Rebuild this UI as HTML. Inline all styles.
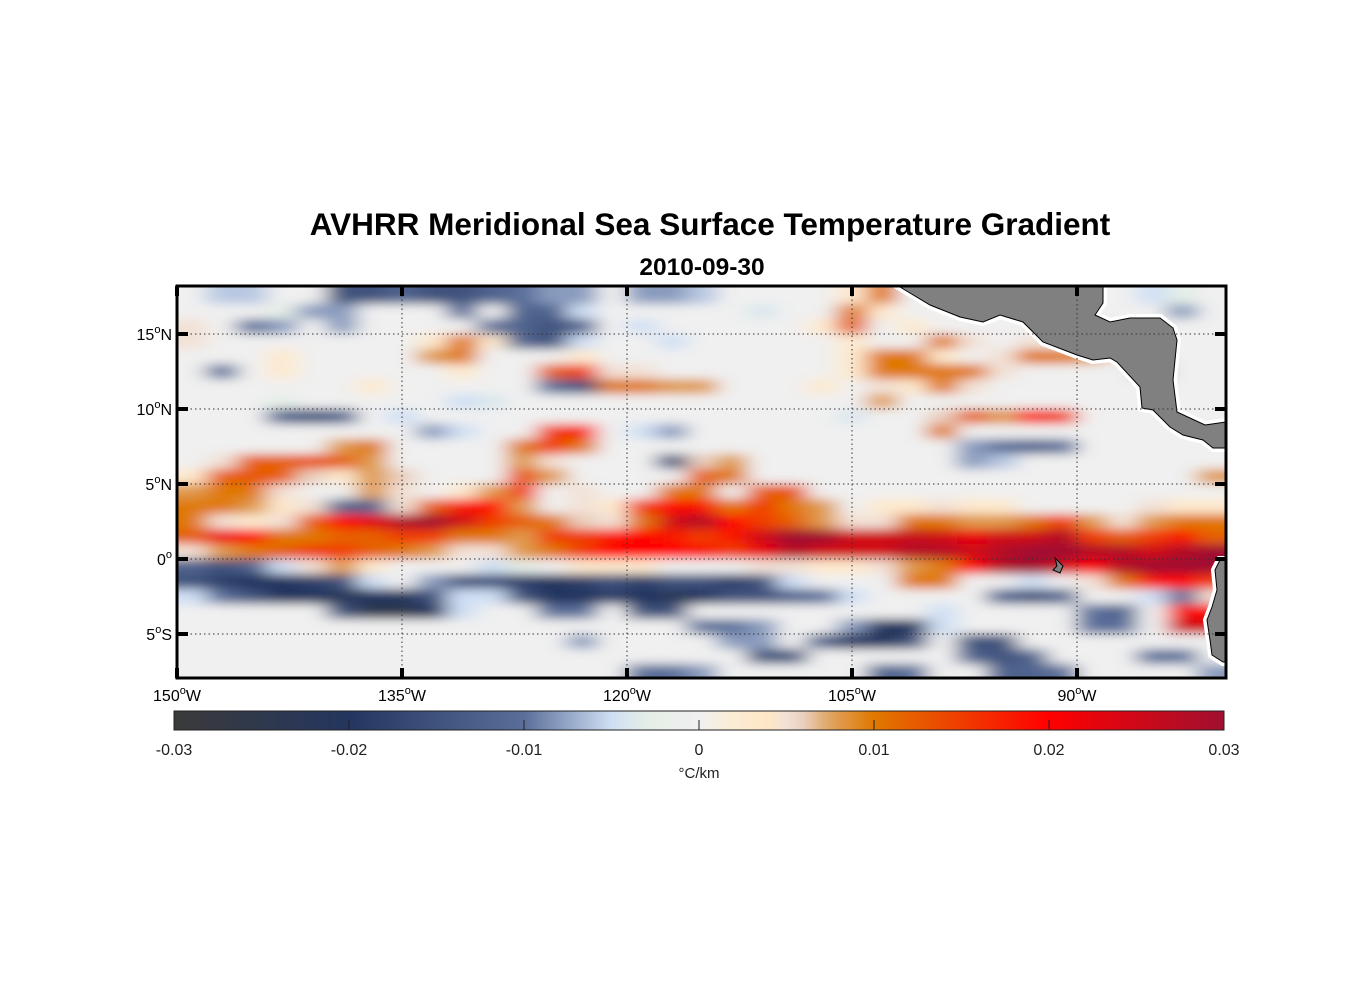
<!DOCTYPE html>
<html><head><meta charset="utf-8"><style>
body{margin:0;background:#fff;font-family:"Liberation Sans",Arial,sans-serif}
svg{display:block}
</style></head><body>
<svg id="chart" width="1356" height="1000" xmlns="http://www.w3.org/2000/svg">
<defs>
<clipPath id="frameClip"><rect x="177" y="286" width="1049" height="392"/></clipPath>
<filter id="blur" x="-5%" y="-5%" width="110%" height="110%"><feGaussianBlur stdDeviation="11 5"/></filter>
<linearGradient id="cbGrad" x1="0" x2="1" y1="0" y2="0"></linearGradient>
</defs>
<text x="710" y="235" text-anchor="middle" font-size="31.5" font-weight="bold">AVHRR Meridional Sea Surface Temperature Gradient</text>
<text x="702" y="275" text-anchor="middle" font-size="24.5" font-weight="bold">2010-09-30</text>
<rect x="177" y="286" width="1049" height="392" fill="#eef0ee"/>
<g clip-path="url(#frameClip)"><g id="cells" filter="url(#blur)"></g></g>
<g id="land" clip-path="url(#frameClip)">
<polygon points="900,287 930,305 960,317 983,322 1000,315 1023,322 1043,342 1077,355 1093,360 1110,358 1117,362 1140,387 1142,408 1153,410 1170,427 1183,435 1203,440 1213,448 1223,448 1226,448 1226,422 1205,425 1177,412 1173,380 1177,340 1173,328 1160,318 1130,318 1110,322 1095,315 1103,303 1103,287" fill="#fff" stroke="#fff" stroke-width="8"/>
<polygon points="900,287 930,305 960,317 983,322 1000,315 1023,322 1043,342 1077,355 1093,360 1110,358 1117,362 1140,387 1142,408 1153,410 1170,427 1183,435 1203,440 1213,448 1223,448 1226,448 1226,422 1205,425 1177,412 1173,380 1177,340 1173,328 1160,318 1130,318 1110,322 1095,315 1103,303 1103,287" fill="#808080" stroke="#000" stroke-width="1"/>
<polygon points="1226,560 1220,560 1215,570 1217,590 1212,607 1207,620 1210,640 1212,655 1223,662 1226,662" fill="#fff" stroke="#fff" stroke-width="8"/>
<polygon points="1226,560 1220,560 1215,570 1217,590 1212,607 1207,620 1210,640 1212,655 1223,662 1226,662" fill="#808080" stroke="#000" stroke-width="1"/>
<polygon points="1055,558 1063,566 1060,573 1053,570 1057,566" fill="#808080" stroke="#000" stroke-width="1"/>
</g>
<g id="grid"></g>
<rect x="177" y="286" width="1049" height="392" fill="none" stroke="#000" stroke-width="3"/>
<g id="ticks"></g>
<g id="labels" font-size="16"></g>
<rect x="174" y="711" width="1050" height="19" fill="url(#cbGrad)" stroke="#222" stroke-width="1"/>
<g id="cbticks" font-size="16" fill="#222"></g>
<text x="699" y="778" text-anchor="middle" font-size="15" fill="#222">°C/km</text>
</svg>
<script>
const lonCenters = [149,147,145,143,141,139,137,135,133,131,129,127,125,123,121,119,117,115,113,111,109,107,105,103,101,99,97,95,93,91,89,87,85,83,81];
const latCenters = [17.5,16.5,15.5,14.5,13.5,12.5,11.5,10.5,9.5,8.5,7.5,6.5,5.5,4.5,3.5,2.5,1.5,0.5,-0.5,-1.5,-2.5,-3.5,-4.5,-5.5,-6.5,-7.5];
// values in units of 0.01 °C/km
const r17 = [0,-0.6,-0.6,0,0,-1.5,-1.5,-1.2,-1.5,-1.5,-1.2,-1,-0.8,-0.8,0,-0.8,-0.8,-0.6,0,0,0,0,0.3,1,0,0,0,0,0,0,0,0,-0.5,-0.3,0];
const r16 = [0,0,0,-0.3,-0.8,-0.8,0,0,0,-1,0,-1.2,-1.2,-0.5,0,0,0,0,0,-0.4,0,0,1,0.3,0,0,0,0,0,0,0,0,0,-0.8,0];
const r15 = [0.5,0,-1,-0.8,0,-0.8,0,0,0,0,-1,-1.2,-1.5,-1.2,0,-0.5,0,0,0,0,0,0.3,1.2,0,0.3,0,0,0,0,0,0,0,0,0,0];
const r14 = [0.5,0,0,0,0,0,0,0,0.3,1,0.3,-1.2,-1.5,-0.5,0,0,-0.5,0,0,0,0,0,0.3,0,0,1,0.5,0,0.5,0,0,0,0,0,0];
const r13 = [0,0,0,0.3,0,0,0,0,0.8,1,0,0,0,0.3,0,0,0,0,0,0,0,0,0.3,1,1,0.3,0,0.5,1,1,0.8,0,0,0,0];
const r12 = [0,-1,0,0.3,0,0,0,0,0,0.3,0,0,1.2,1.5,0.5,0.5,0,0,0,0,0,0,0.3,1,1,1,1,0.5,0,0,0,0,-0.8,0,0];
const r11 = [0,0,0,0,0,0,0.3,0,0,0,0,0,-1,-1.5,1,1,0.8,0.8,0,0,0,0.3,0,0.5,0.3,1,0.5,0,0,0,0,0,0,0,0];
const r10 = [0,0,0,-0.3,0,0,0,0,0,-0.5,-0.4,0,0,0,0,0,0,0,0,0,0,0,0,0.8,0,0,0,0,0,0,0,0,0,0,0];
const r9 = [0,0,0,-1.2,-1.5,-1.2,0,-0.5,0,0,0,0,0,0,0,0,0,0,0,0,0,0,-0.4,0,0,0.6,1.2,0.8,1.8,1.5,0,0,0,0,0];
const r8 = [0,0,0,0,0,0,0,0,-0.8,-0.5,0,0,1.5,1.8,0,-0.5,-0.8,0,0,0,0,0,0,0,0,1,0,0,0,0,0,0,0,0,0];
const r7 = [0,0,0,0,0,0.8,1,0,0,0,0,1,1.5,1,0,0,0,0,0,0,0,0,0,0,0,0,-0.8,-1,-1.2,-1,0,0,0,0,0];
const r6 = [0,0.5,1.2,1.2,1.3,1.2,0.8,0,0,0,0,0.8,0.5,0,0,0,-1.5,0.6,0.8,0,0,0,0,0,0,0,-0.8,-0.6,0,0,0,0,0,0,0];
const r5 = [0.3,1.2,1.3,1.2,0.6,0.3,0.8,0.6,0,0,0,1.3,0.8,0,0,0,0,1.2,1,0,0,0,0,0,0,0,0,0,0,0,0,0,0,0,0.8];
const r4 = [0.8,1,1,0.5,0,0,0.8,0.5,0,0.3,0.8,1.5,0,0.5,0,0,1,1,0,1.2,1.3,0,0,0,0,0,0,0,0,0,0,0,0,0,0];
const r3 = [1,1,0.8,0.3,0.5,-1.2,-1.2,0.5,1.2,1.8,2,0.8,0,0.5,0.3,1.5,2,1.8,1,1.5,1,0.8,0,0.3,0.3,0.5,0.3,0.3,0,0,0,0,0.5,0.3,0.3];
const r2 = [1,0.5,0.3,0.5,1.2,2,2.3,2.8,3,2.5,1.5,1.2,1,0.6,0.5,1,2.5,2.8,2,1.5,1.2,0.8,0.5,0.5,1,1,0.8,0.8,1,1.5,0.8,0.5,0.8,1,1];
const r1 = [1.2,2.2,2,1,1,1.2,1.2,1.5,1.5,1,1,0.8,1.5,1.5,1.8,2,1.8,1.5,1.8,2.5,3,3,2.5,2.5,2.6,2.5,2.2,2.5,2.5,2.8,1.5,1.2,1.5,1.8,1.2];
const r0 = [0.5,0.8,1,1.2,1.5,1.5,1.2,1,0.8,0.5,0.5,0.8,1,1.5,2,2,2,1.8,1.5,2.2,2.8,2.5,2.5,2.5,2.8,2.8,2.5,2.8,3,3,2.8,2.8,2.5,2.8,3];
const s0 = [-1.2,-1.5,-1.2,-0.5,0.5,0.8,0.3,0,0,0,-0.5,-0.3,0,0.3,0.3,0.3,0,0,0,0.5,0.5,0.3,0.3,0.5,0.8,1,2,2.8,3,2.5,2,2.8,3,3,3];
const s1 = [-1.5,-1.8,-2,-2,-1.8,-1.5,-0.5,0,-0.8,-1.5,-1.5,-1.8,-2,-1.8,-1.5,-1.8,-1.5,-1.5,-1.8,-1.5,-0.5,0,0,0,1,1,0,0,-0.5,0,0.5,1,1.8,2,1.5];
const s2 = [-0.5,-1,-1.5,-2,-2,-2.2,-2,-2,-1.5,-0.5,-0.5,-1.5,-2,-2,-1.8,-2,-2.2,-2,-1.5,-1.5,-1.2,-1,-0.5,0,0,0,0,-1.2,-1.5,-1.2,0,0,-0.5,-1,0.5];
const s3 = [0,0,0,0,0,-1.5,-2.5,-2.5,-2,-0.5,0,0,-1,-1,0,-1.5,-1.5,0,0,0,0,0,0,0,0,-0.5,0,0,0,0,-1,-1.2,0,1.8,2];
const s4 = [0,0,0,0,0,0,0,0,0,0,0,0,0,0,0,0,0,-1,-1,-0.8,0,0,-0.8,-2,-2,-0.5,0,0,0,0,-1,-1,0,2.5,2.5];
const s5 = [0,0,0,0,0,0,0,0,0,0,0,0,0,-0.8,0,0,0,0,-0.8,-0.8,0,-1.2,-2,-2,-1.5,0,-1.5,-1.5,0,0,0,0,0,0,0];
const s6 = [0,0,0,0,0,0,0,0,0,0,0,0,0,0,0,0,0,0,0,-1.5,-1.5,0,0,0,0,0,-1.2,-1.5,-1.2,0,0,0,-1,-1,0];
const s7 = [0,0,0,0,0,0,0,0,0,0,0,0,0,0,0,-1,-1,-0.8,0,0,0,0,0,-1.2,-1,0,0,-1.2,-1.2,-1,0,0,0,0,-0.8];
const rows = [r17,r16,r15,r14,r13,r12,r11,r10,r9,r8,r7,r6,r5,r4,r3,r2,r1,r0,s0,s1,s2,s3,s4,s5,s6,s7];
const lonTicks = [150,135,120,105,90];
const latTicks = [15,10,5,0,-5];
const cbTicks = [-0.03,-0.02,-0.01,0,0.01,0.02,0.03];
const cbTickLabels = ["-0.03","-0.02","-0.01","0","0.01","0.02","0.03"];

const NS='http://www.w3.org/2000/svg';
const xLon = lon => 177 + (150 - lon) * 15;
const yLat = lat => 559 - lat * 15;
const stops = [[-3,[58,58,58]],[-2,[36,54,95]],[-1,[90,110,154]],[-0.5,[207,223,244]],[-0.3,[228,238,230]],[0,[240,240,240]],[0.2,[252,236,212]],[0.4,[253,230,198]],[0.55,[236,222,222]],[0.75,[223,162,94]],[1,[224,120,0]],[2,[255,0,0]],[3,[160,16,48]]];
function color(v){
  v=Math.max(-3,Math.min(3,v));
  for(let i=0;i<stops.length-1;i++){
    const [a,ca]=stops[i],[b,cb]=stops[i+1];
    if(v<=b){const t=(v-a)/(b-a);return 'rgb('+ca.map((c,k)=>Math.round(c+(cb[k]-c)*t)).join(',')+')';}
  }
  return 'rgb(160,16,48)';
}
function mk(tag,attrs,parent){const e=document.createElementNS(NS,tag);for(const k in attrs)e.setAttribute(k,attrs[k]);parent.appendChild(e);return e;}
const cells=document.getElementById('cells');
rows.forEach((row,ri)=>{
  const lat=latCenters[ri];
  row.forEach((v,ci)=>{
    const lon=lonCenters[ci];
    const x0=xLon(lon+1),x1=xLon(lon-1),y0=yLat(lat+0.5),y1=yLat(lat-0.5);
    let ya=y0,yb=y1;
    if(ri===0) ya=y0-20;
    if(ri===rows.length-1) yb=y1+20;
    let xa=x0,xb=x1;
    if(ci===0) xa=x0-25;
    if(ci===row.length-1) xb=x1+25;
    const r=mk('rect',{x:xa,y:ya,width:xb-xa+0.5,height:yb-ya+0.5,fill:color(v)},cells);
    
    
  });
});
const grid=document.getElementById('grid'),ticks=document.getElementById('ticks'),labels=document.getElementById('labels');
lonTicks.forEach(lon=>{
  const x=xLon(lon);
  if(lon!==150){const g=mk('line',{x1:x,x2:x,y1:286,y2:678,stroke:'#333','stroke-width':1,'stroke-dasharray':'1.5 3'},grid);
  
  }
  const t1=mk('line',{x1:x,x2:x,y1:286,y2:296,stroke:'#000','stroke-width':4},ticks);
  
  
  const t2=mk('line',{x1:x,x2:x,y1:668,y2:678,stroke:'#000','stroke-width':4},ticks);
  
  
  const tx=mk('text',{x:x,y:701,'text-anchor':'middle'},labels);
  
  
  tx.innerHTML=lon+'<tspan dy="-7" font-size="11">o</tspan><tspan dy="7">W</tspan>';
});
latTicks.forEach(lat=>{
  const y=yLat(lat);
  const g=mk('line',{x1:177,x2:1226,y1:y,y2:y,stroke:'#333','stroke-width':1,'stroke-dasharray':'1.5 3'},grid);
  
  
  const t1=mk('line',{x1:177,x2:188,y1:y,y2:y,stroke:'#000','stroke-width':4},ticks);
  
  
  const t2=mk('line',{x1:1215,x2:1226,y1:y,y2:y,stroke:'#000','stroke-width':4},ticks);
  
  
  const tx=mk('text',{x:172,y:y+6,'text-anchor':'end'},labels);
  
  
  const hemi=lat>0?'N':(lat<0?'S':'');
  tx.innerHTML=Math.abs(lat)+'<tspan dy="-7" font-size="11">o</tspan><tspan dy="7">'+hemi+'</tspan>';
});
const grad=document.getElementById('cbGrad');
for(let v=-3;v<=3.0001;v+=0.1){mk('stop',{offset:((v+3)/6).toFixed(4),'stop-color':color(v)},grad);}
const cbt=document.getElementById('cbticks');
cbTicks.forEach((v,i)=>{
  const x=174+(v+0.03)/0.06*1050;
  if(i>0&&i<cbTicks.length-1){const l=mk('line',{x1:x,x2:x,y1:720,y2:730,stroke:'#222','stroke-width':1},cbt);
  
  }
  const t=mk('text',{x:x,y:755,'text-anchor':'middle'},cbt);
  
  
  t.textContent=cbTickLabels[i];
});
</script>
</body></html>
